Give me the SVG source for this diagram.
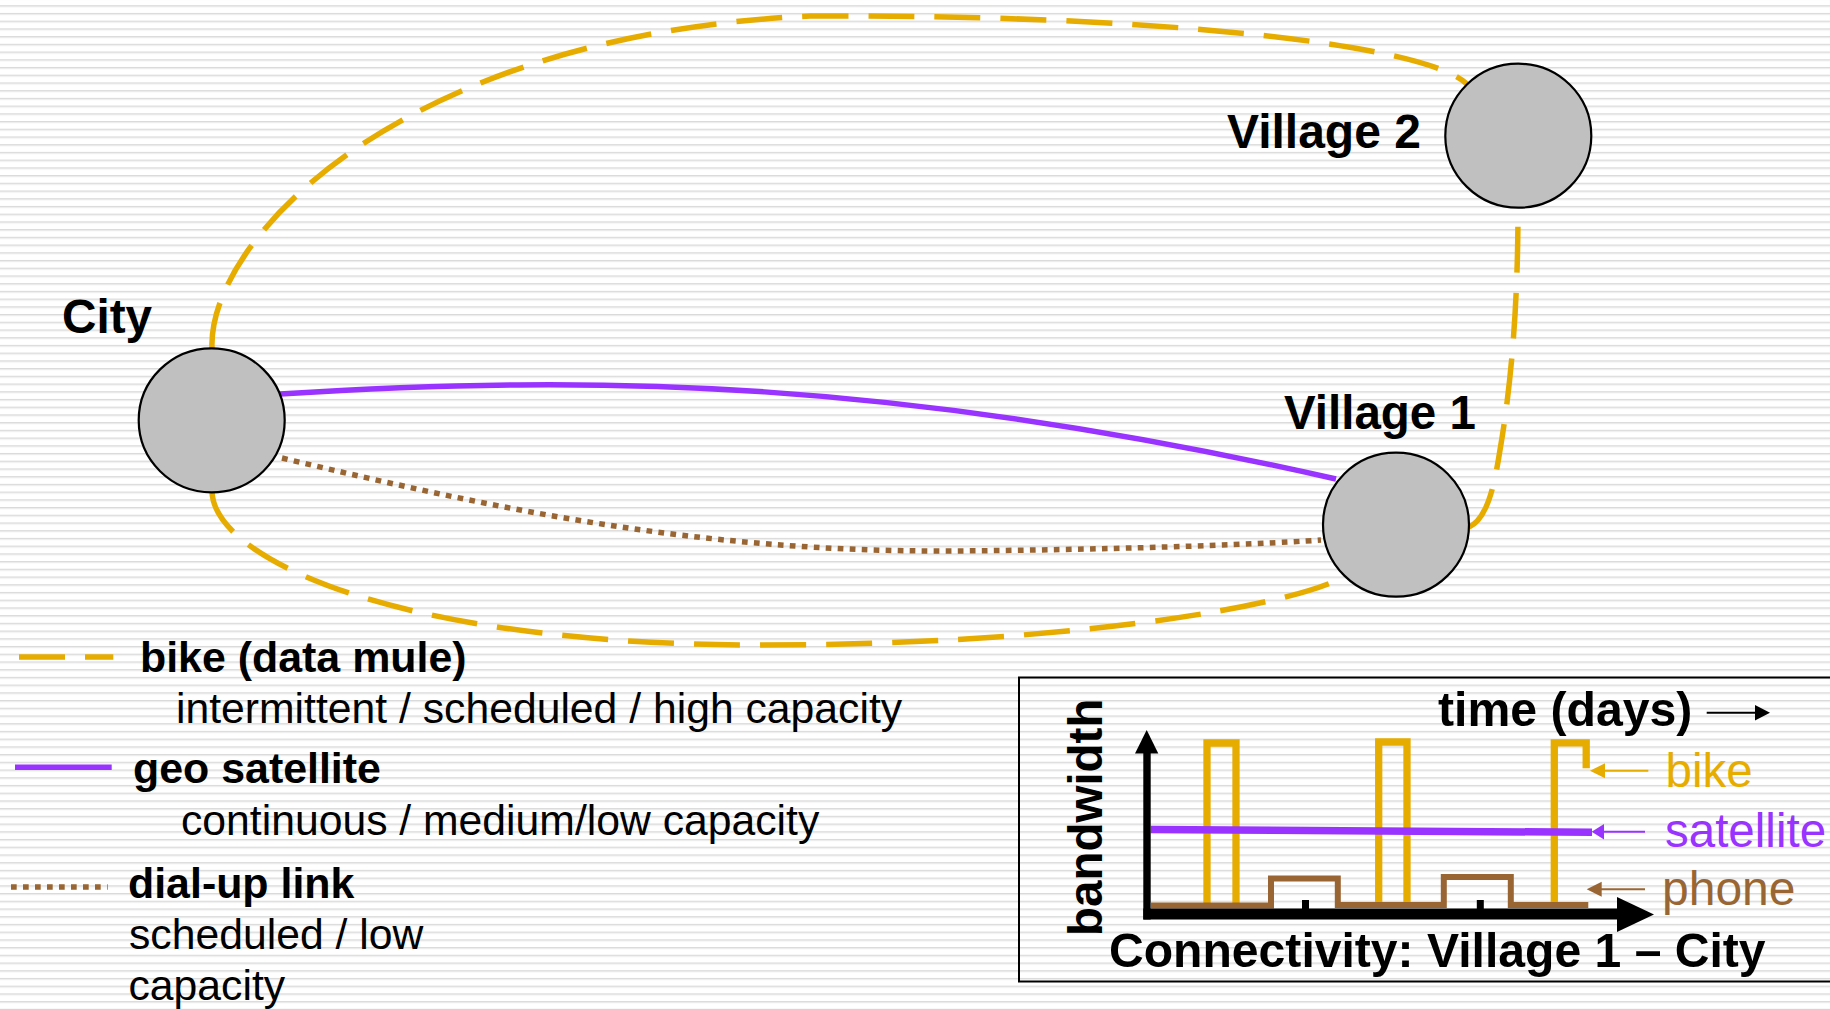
<svg xmlns="http://www.w3.org/2000/svg" width="1830" height="1009" viewBox="0 0 1830 1009">
  <defs>
    <!-- fine horizontal line texture of the slide background -->
    <pattern id="stripes" patternUnits="userSpaceOnUse" x="0" y="5.2" width="20" height="7.72">
      <rect width="20" height="7.72" fill="#ffffff"/>
      <rect y="0" width="20" height="1.1" fill="#dadada"/>
      <rect y="1.1" width="20" height="1" fill="#ebebeb"/>
    </pattern>
    <style>
      .lbl { font-family: "Liberation Sans", Arial, sans-serif; font-weight: bold; fill: #000; }
      .reg { font-family: "Liberation Sans", Arial, sans-serif; font-weight: normal; fill: #000; }
      .node { fill: #c0c0c0; stroke: #000; stroke-width: 2.2; }
      .bike { fill: none; stroke: #e6ac00; stroke-width: 5.5; stroke-dasharray: 46 20; }
      .sat { fill: none; stroke: #9933ff; stroke-width: 5.5; }
      .dial { fill: none; stroke: #996633; stroke-width: 5.5; stroke-dasharray: 5.7 6.3; }
      .pulse { fill: none; stroke: #e6ac00; stroke-width: 7.3; stroke-linejoin: miter; }
      .phone { fill: none; stroke: #996633; stroke-width: 6; }
      .axis { stroke: #000; }
    </style>
  </defs>

  <rect x="0" y="0" width="1830" height="1009" fill="url(#stripes)"/>

  <!-- links between the sites -->
  <g id="connectors">
    <!-- bike: City over the top to Village 2 -->
    <path class="bike" d="M212,348 C208,240 400,35 810,16 C1120,14 1420,40 1467,84"/>
    <!-- bike: Village 1 up to Village 2 -->
    <path class="bike" d="M1469,527 C1485,520 1493,495 1500,450 C1512,380 1518,300 1518,208"/>
    <!-- bike: City underneath to Village 1 -->
    <path class="bike" d="M212,492 C215,560 400,645 760,645 C1050,645 1280,610 1344,577"/>
    <!-- geo satellite: City to Village 1 -->
    <path class="sat" d="M280,394 C600,374 900,380 1336,479"/>
    <!-- dial-up: City to Village 1 -->
    <path class="dial" d="M282,458 C500,510 700,552 950,551 C1100,550 1250,545 1321,540"/>
  </g>

  <g id="node-city">
    <ellipse class="node" cx="211.7" cy="420.3" rx="73" ry="72"/>
    <text class="lbl" x="62" y="333" font-size="47.7">City</text>
  </g>
  <g id="node-village1">
    <ellipse class="node" cx="1396" cy="524.7" rx="73" ry="72"/>
    <text class="lbl" x="1284" y="429" font-size="47.5">Village 1</text>
  </g>
  <g id="node-village2">
    <ellipse class="node" cx="1518.3" cy="135.7" rx="73" ry="72"/>
    <text class="lbl" x="1227" y="148" font-size="48">Village 2</text>
  </g>

  <!-- legend -->
  <g id="legend">
    <line class="bike" x1="19" y1="657" x2="113.3" y2="657" stroke-width="6"/>
    <text class="lbl" x="140" y="671.7" font-size="42.9">bike (data mule)</text>
    <text class="reg" x="176" y="723.3" font-size="42.7">intermittent / scheduled / high capacity</text>

    <line class="sat" x1="15" y1="767.3" x2="111.7" y2="767.3" stroke-width="6"/>
    <text class="lbl" x="133" y="783.3" font-size="42.9">geo satellite</text>
    <text class="reg" x="181" y="835" font-size="42.7">continuous / medium/low capacity</text>

    <line class="dial" x1="11" y1="887" x2="107.7" y2="887" stroke-width="6"/>
    <text class="lbl" x="128" y="898.3" font-size="42.9">dial-up link</text>
    <text class="reg" x="129" y="949.3" font-size="42.7">scheduled / low</text>
    <text class="reg" x="128.5" y="1000" font-size="42.7">capacity</text>
  </g>

  <!-- inset: bandwidth over time between Village 1 and City -->
  <g id="chart">
    <rect x="1019" y="677.5" width="820" height="304" fill="none" stroke="#000" stroke-width="2"/>

    <!-- bike visits -->
    <path class="pulse" d="M1207,903 V743 H1236 V903"/>
    <path class="pulse" d="M1378.7,903 V742 H1407 V903"/>
    <path class="pulse" d="M1554.3,903 V742.8 H1586.2 V768.3" stroke-width="6.2"/>

    <!-- phone sessions -->
    <path class="phone" d="M1151,905.5 H1271 V878.5 H1337.8 V905 H1443.8 V877 H1510.8 V905 H1588.3"/>

    <!-- satellite, always on -->
    <line x1="1150.7" y1="829.5" x2="1592" y2="832.3" stroke="#9933ff" stroke-width="7.5"/>

    <!-- axes -->
    <line class="axis" x1="1147" y1="919.5" x2="1147" y2="752" stroke-width="7.4"/>
    <polygon points="1135,753.5 1146.7,730 1158.3,753.5" fill="#000"/>
    <line class="axis" x1="1143.3" y1="914" x2="1619" y2="914" stroke-width="11"/>
    <polygon points="1617,897 1654,914.5 1617,932" fill="#000"/>
    <rect x="1302" y="900" width="7" height="10" fill="#000"/>
    <rect x="1476.8" y="900" width="7" height="10" fill="#000"/>

    <!-- label pointers -->
    <line x1="1648.3" y1="770.7" x2="1603" y2="770.7" stroke="#e6ac00" stroke-width="2"/>
    <polygon points="1590,770.7 1605,763.2 1605,778.2" fill="#e6ac00"/>
    <line x1="1645" y1="831.7" x2="1602" y2="831.7" stroke="#9933ff" stroke-width="2"/>
    <polygon points="1591.7,831.7 1604,824 1604,839.4" fill="#9933ff"/>
    <line x1="1645" y1="889.3" x2="1599" y2="889.3" stroke="#996633" stroke-width="2"/>
    <polygon points="1586.7,889.3 1601.7,881.8 1601.7,896.8" fill="#996633"/>

    <text class="reg" x="1665.5" y="786.7" font-size="47.5" style="fill:#e6ac00">bike</text>
    <text class="reg" x="1665" y="846.7" font-size="47.5" style="fill:#9933ff">satellite</text>
    <text class="reg" x="1662" y="905" font-size="48" style="fill:#996633">phone</text>

    <text class="lbl" x="1438" y="726" font-size="48.2">time (days)</text>
    <line x1="1706.7" y1="712.7" x2="1757" y2="712.7" stroke="#000" stroke-width="2"/>
    <polygon points="1770,712.7 1755,705 1755,720.4" fill="#000"/>

    <text class="lbl" x="1101.7" y="936" font-size="47.5" transform="rotate(-90 1101.7 936)">bandwidth</text>
    <text class="lbl" x="1109" y="967" font-size="48.1">Connectivity: Village 1 – City</text>
  </g>
</svg>
